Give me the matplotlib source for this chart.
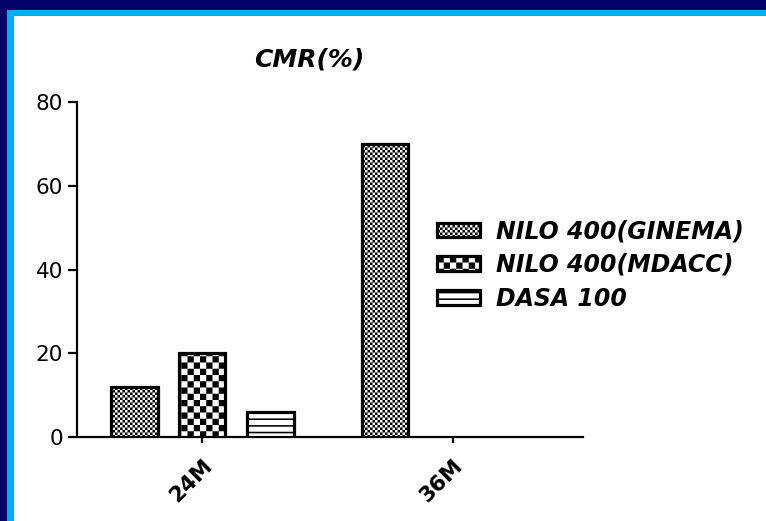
import warnings
import numpy as np
import matplotlib
matplotlib.use("Agg")
from matplotlib import pyplot as plt
import matplotlib.hatch as mhatch
from matplotlib.path import Path
from matplotlib.patches import Rectangle

warnings.filterwarnings("ignore")

# data
groups = ["24M", "36M"]
series = ["NILO 400(GINEMA)", "NILO 400(MDACC)", "DASA 100"]
ginema = [12, 70]
mdacc = [20, np.nan]
dasa = [6, np.nan]
yticks = [0, 20, 40, 60, 80]


# checker / line fills like the original graph program
class SquareFill(mhatch.HatchPatternBase):
    sizes = {"c": 40, "k": 16}

    def __init__(self, hatch, density):
        n = 0
        for ch, v in self.sizes.items():
            if ch in hatch:
                n = v
        self.n = n
        self.cells = [(i, j) for i in range(n) for j in range(n) if (i + j) % 2 == 0]
        self.num_vertices = len(self.cells) * 5

    def set_vertices_and_codes(self, vertices, codes):
        s = 1.0 / self.n
        for k, (i, j) in enumerate(self.cells):
            x0, y0 = i * s, j * s
            vertices[5 * k:5 * k + 5] = [(x0, y0), (x0 + s, y0), (x0 + s, y0 + s),
                                         (x0, y0 + s), (x0, y0)]
            codes[5 * k:5 * k + 5] = [Path.MOVETO, Path.LINETO, Path.LINETO,
                                      Path.LINETO, Path.CLOSEPOLY]


class LineFill(mhatch.HatchPatternBase):
    def __init__(self, hatch, density):
        self.n = 15 if "h" in hatch else 0
        self.num_vertices = self.n * 5

    def set_vertices_and_codes(self, vertices, codes):
        t = 0.016
        for k in range(self.n):
            y0 = k / self.n
            vertices[5 * k:5 * k + 5] = [(0, y0), (1, y0), (1, y0 + t), (0, y0 + t), (0, y0)]
            codes[5 * k:5 * k + 5] = [Path.MOVETO, Path.LINETO, Path.LINETO,
                                      Path.LINETO, Path.CLOSEPOLY]


mhatch._hatch_types.append(SquareFill)
mhatch._hatch_types.append(LineFill)
plt.rcParams["hatch.linewidth"] = 0.01

W, H = 766, 521
fig = plt.figure(figsize=(W / 100, H / 100), dpi=100)
fig.patch.set_facecolor("#000066")
fig.add_artist(Rectangle((7 / W, 0), 1, 1 - 10 / H, transform=fig.transFigure,
                         facecolor="#00AEEF", edgecolor="none", zorder=-10))
fig.add_artist(Rectangle((14 / W, 0), 1, 1 - 16 / H, transform=fig.transFigure,
                         facecolor="white", edgecolor="none", zorder=-9))

ax = fig.add_axes([77 / W, 1 - 437 / H, (583 - 77) / W, (437 - 102) / H])
ax.set_facecolor("none")

x = np.arange(len(groups))
w = 0.185
offs = [-0.271, 0, 0.273]
hatches = ["c", "k", "h"]
for vals, off, hat, lab in zip([ginema, mdacc, dasa], offs, hatches, series):
    ax.bar(x + off, vals, w, facecolor="white", edgecolor="black",
           linewidth=2.3, hatch=hat, label=lab, zorder=3)

ax.set_xlim(-0.5, 1.52)
ax.set_ylim(0, 80)
ax.set_yticks(yticks)
ax.set_xticks(x)
ax.set_xticklabels(groups, rotation=45, ha="right", va="top",
                   fontsize=15.5, fontweight="bold", rotation_mode="anchor")
for lbl in ax.get_yticklabels():
    lbl.set_fontsize(15.5)
for s in ["top", "right"]:
    ax.spines[s].set_visible(False)
for s in ["left", "bottom"]:
    ax.spines[s].set_linewidth(1.6)
ax.tick_params(axis="y", length=6.5, width=1.6, pad=3.5)
ax.tick_params(axis="x", length=4.5, width=1.6, pad=9)

fig.text(309 / W, 1 - 60 / H, "CMR(%)", ha="center", va="center",
         fontsize=18, fontweight="bold", fontstyle="italic", family="DejaVu Sans")

fig.legend(loc="upper left", bbox_to_anchor=(437 / W, 1 - 219 / H), frameon=False,
           prop={"family": "DejaVu Sans", "size": 17, "weight": "bold", "style": "italic"},
           handlelength=1.8, handleheight=0.55, handletextpad=0.7, labelspacing=0.42,
           borderpad=0, borderaxespad=0)

fig.savefig("out.png", dpi=100)
